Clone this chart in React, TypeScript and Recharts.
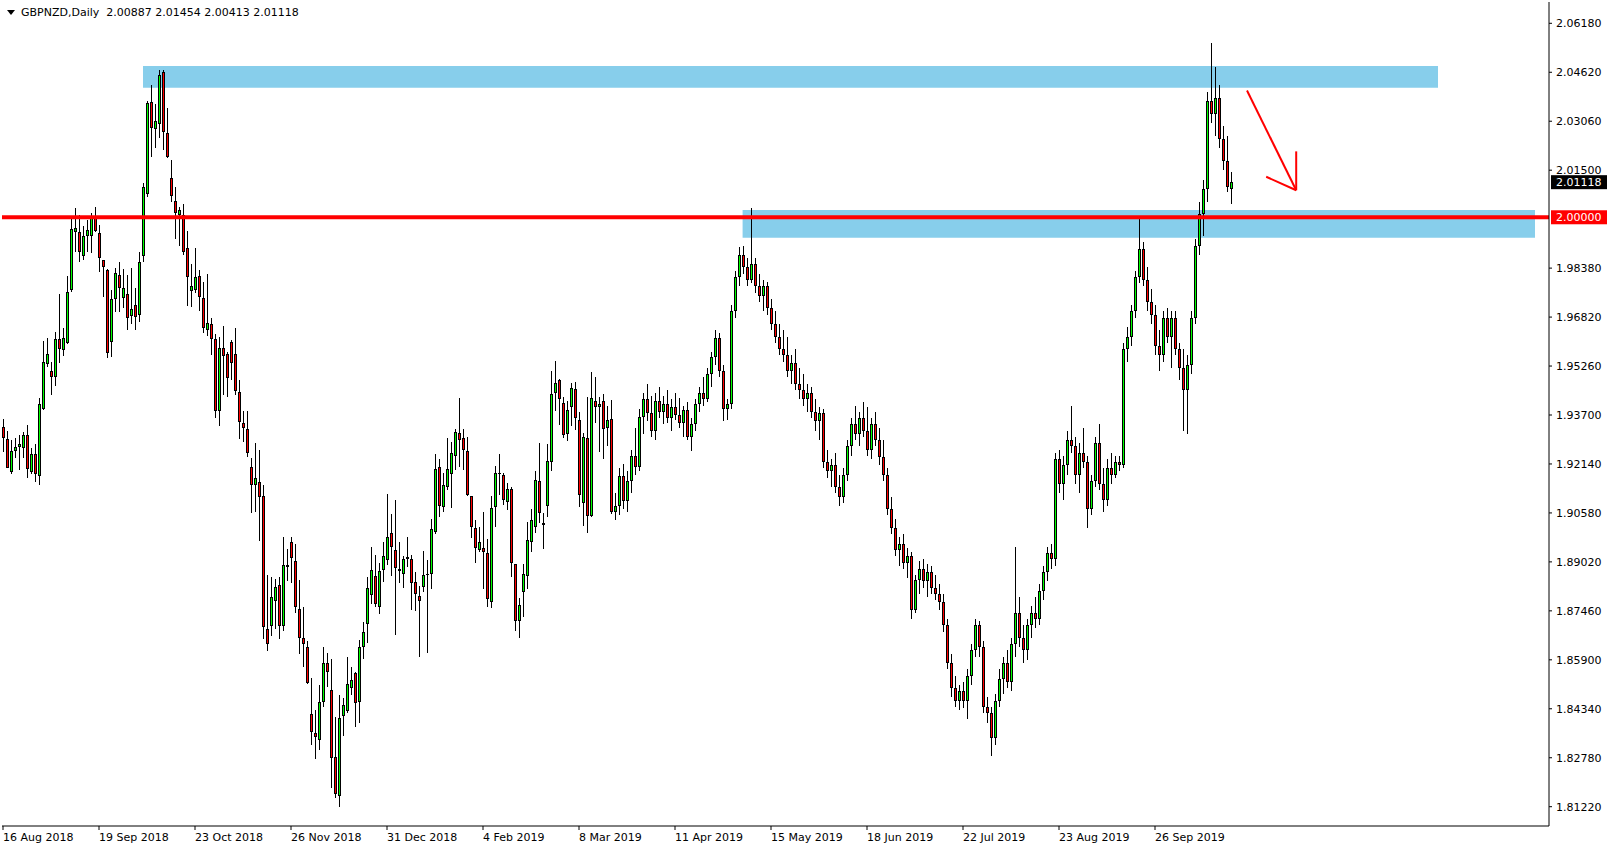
import { ComposedChart, Bar, XAxis, YAxis, ReferenceArea, ReferenceLine } from 'recharts';

const FONT = '"DejaVu Sans", sans-serif';

// x axis labels, one every 24 daily bars starting at bar 0
const xLabels = [
  '16 Aug 2018', '19 Sep 2018', '23 Oct 2018', '26 Nov 2018', '31 Dec 2018', '4 Feb 2019', '8 Mar 2019',
  '11 Apr 2019', '15 May 2019', '18 Jun 2019', '22 Jul 2019', '23 Aug 2019', '26 Sep 2019',
];
const xTickIdx = xLabels.map((_, k) => k * 24);

const yTicks = [
  2.0618, 2.0462, 2.0306, 2.015, 1.9838, 1.9682, 1.9526, 1.937, 1.9214, 1.9058, 1.8902, 1.8746, 1.859,
  1.8434, 1.8278, 1.8122,
];

// GBPNZD daily [open, high, low, close]
const ohlc: [number, number, number, number][] = [
  [1.93329, 1.93573, 1.92532, 1.92957], [1.92925, 1.93191, 1.92001, 1.92022], [1.91895, 1.92904, 1.91831, 1.92543],
  [1.92553, 1.92957, 1.9232, 1.9267], [1.9267, 1.93063, 1.91948, 1.92776], [1.92638, 1.93148, 1.9232, 1.93063],
  [1.93063, 1.93382, 1.91683, 1.91969], [1.91874, 1.92638, 1.9181, 1.92447], [1.92447, 1.92766, 1.91555, 1.9181],
  [1.91757, 1.94231, 1.9147, 1.9404], [1.93881, 1.96069, 1.93859, 1.95378], [1.95315, 1.96143, 1.9524, 1.95633],
  [1.95102, 1.95378, 1.94338, 1.94922], [1.94922, 1.96355, 1.94635, 1.96111], [1.96111, 1.97555, 1.95346, 1.95792],
  [1.95761, 1.96462, 1.95591, 1.96143], [1.95984, 1.9814, 1.95962, 1.97609], [1.97683, 1.99945, 1.97629, 1.99626],
  [1.99541, 2.00306, 1.98904, 1.99658], [1.9952, 2.00072, 1.98586, 1.98883], [1.98777, 1.99711, 1.98639, 1.99393],
  [1.99414, 1.99913, 1.98904, 1.99594], [1.99414, 2.00125, 1.98851, 1.99966], [1.99966, 2.00327, 1.9952, 1.99563],
  [1.99488, 1.99754, 1.98246, 1.98692], [1.98628, 1.98639, 1.97449, 1.98416], [1.98309, 1.98341, 1.95506, 1.95665],
  [1.96016, 1.97683, 1.95559, 1.97386], [1.97386, 1.98373, 1.96993, 1.98214], [1.98161, 1.98565, 1.96993, 1.97736],
  [1.97418, 1.98352, 1.9712, 1.97736], [1.97545, 1.98161, 1.96398, 1.9678], [1.96855, 1.98373, 1.96589, 1.97067],
  [1.97195, 1.97736, 1.96398, 1.96812], [1.96887, 1.98883, 1.96653, 1.98586], [1.98756, 2.01081, 1.98586, 2.00954],
  [2.00731, 2.03705, 2.00657, 2.0363], [2.03683, 2.04214, 2.01931, 2.02834], [2.02802, 2.03609, 2.02218, 2.03057],
  [2.02961, 2.04703, 2.02515, 2.04522], [2.04639, 2.04692, 2.02143, 2.02728], [2.02674, 2.03471, 2.01878, 2.01931],
  [2.01241, 2.01825, 2.00497, 2.00678], [2.00508, 2.00975, 1.99308, 2.00126], [2.00073, 2.00338, 1.99096, 2.00221],
  [2.00062, 2.00412, 1.98798, 1.98904], [1.99011, 1.99563, 1.97184, 1.98087], [1.97641, 1.98501, 1.97152, 1.978],
  [1.97683, 1.99011, 1.97577, 1.98087], [1.98129, 1.9832, 1.97014, 1.97449], [1.97418, 1.97949, 1.96324, 1.96462],
  [1.96398, 1.98193, 1.96228, 1.96621], [1.96589, 1.968, 1.95622, 1.96111], [1.96122, 1.96281, 1.93615, 1.93838],
  [1.93838, 1.96175, 1.9335, 1.95824], [1.95824, 1.96536, 1.94337, 1.95591], [1.95633, 1.95697, 1.94284, 1.94868],
  [1.96026, 1.9609, 1.94815, 1.95346], [1.95633, 1.96472, 1.94337, 1.94476], [1.94422, 1.94815, 1.92936, 1.93467],
  [1.93435, 1.93828, 1.92851, 1.93275], [1.93254, 1.93828, 1.92352, 1.92479], [1.92044, 1.9232, 1.90567, 1.91459],
  [1.91459, 1.92798, 1.9062, 1.91682], [1.91576, 1.92585, 1.89697, 1.91098], [1.91109, 1.9147, 1.86553, 1.86935],
  [1.86893, 1.88603, 1.86192, 1.86404], [1.86978, 1.88528, 1.8667, 1.87891], [1.87774, 1.88465, 1.86872, 1.8821],
  [1.88273, 1.8855, 1.86553, 1.86978], [1.86978, 1.89803, 1.86829, 1.88911], [1.88911, 1.8942, 1.88422, 1.88868],
  [1.89643, 1.89803, 1.88337, 1.89134], [1.89049, 1.8959, 1.87381, 1.87573], [1.87509, 1.88443, 1.86075, 1.86585],
  [1.86585, 1.87594, 1.85682, 1.86394], [1.86298, 1.865, 1.8512, 1.85151], [1.84163, 1.8531, 1.83186, 1.83611],
  [1.83558, 1.84301, 1.8273, 1.83452], [1.83346, 1.85098, 1.83027, 1.84546], [1.84546, 1.86298, 1.84386, 1.85788],
  [1.85788, 1.86107, 1.85045, 1.85501], [1.84939, 1.85915, 1.81806, 1.82761], [1.82793, 1.84068, 1.81508, 1.81614],
  [1.81572, 1.84779, 1.81222, 1.84036], [1.84121, 1.84673, 1.83484, 1.8445], [1.84259, 1.85979, 1.84195, 1.85119],
  [1.84992, 1.85682, 1.84779, 1.85257], [1.8547, 1.85523, 1.8377, 1.84514], [1.84546, 1.86532, 1.83876, 1.86298],
  [1.86298, 1.87116, 1.85937, 1.86797], [1.87031, 1.88549, 1.86447, 1.88178], [1.87955, 1.89484, 1.87679, 1.88762],
  [1.8856, 1.8924, 1.87594, 1.87668], [1.87594, 1.88974, 1.8736, 1.88719], [1.88762, 1.89664, 1.8839, 1.89197],
  [1.8908, 1.91183, 1.88921, 1.89824], [1.8993, 1.90546, 1.88571, 1.89484], [1.89399, 1.90992, 1.86691, 1.88815],
  [1.88794, 1.89643, 1.88358, 1.88741], [1.88624, 1.89208, 1.88199, 1.89102], [1.89165, 1.89824, 1.88868, 1.89102],
  [1.89102, 1.8924, 1.87487, 1.88337], [1.88369, 1.88709, 1.87466, 1.87986], [1.87933, 1.88252, 1.86001, 1.87764],
  [1.88231, 1.89356, 1.8805, 1.88592], [1.88592, 1.8908, 1.86107, 1.88634], [1.88624, 1.90387, 1.88146, 1.90057],
  [1.89983, 1.92458, 1.89898, 1.9198], [1.92033, 1.92298, 1.90461, 1.90811], [1.9078, 1.91842, 1.9061, 1.91459],
  [1.91396, 1.92967, 1.91311, 1.91969], [1.9182, 1.92851, 1.90726, 1.92479], [1.92394, 1.93243, 1.91948, 1.93148],
  [1.93116, 1.94231, 1.92054, 1.92904], [1.92957, 1.93243, 1.91948, 1.92574], [1.92553, 1.9301, 1.91119, 1.91151],
  [1.91119, 1.91119, 1.89771, 1.90142], [1.90089, 1.90355, 1.88995, 1.89452], [1.89399, 1.90142, 1.89346, 1.89664],
  [1.89452, 1.9062, 1.88156, 1.89346], [1.89293, 1.8975, 1.87594, 1.87827], [1.87732, 1.91119, 1.87562, 1.90726],
  [1.90758, 1.92075, 1.90142, 1.91842], [1.91852, 1.92458, 1.91141, 1.9181], [1.91778, 1.91842, 1.90833, 1.90992],
  [1.90918, 1.91523, 1.90673, 1.91353], [1.91332, 1.91417, 1.88549, 1.88974], [1.88942, 1.88942, 1.86829, 1.87148],
  [1.87148, 1.87859, 1.86585, 1.87647], [1.88072, 1.88942, 1.87275, 1.88634], [1.88581, 1.90281, 1.88146, 1.89718],
  [1.89665, 1.90695, 1.89346, 1.90355], [1.90142, 1.91927, 1.8993, 1.91629], [1.91597, 1.92797, 1.90249, 1.90567],
  [1.9026, 1.90588, 1.89431, 1.90206], [1.90812, 1.92776, 1.90461, 1.92235], [1.92213, 1.95102, 1.91927, 1.94359],
  [1.94391, 1.9541, 1.93828, 1.9472], [1.94815, 1.94837, 1.93382, 1.94199], [1.94072, 1.94263, 1.92957, 1.93052],
  [1.93084, 1.94146, 1.92882, 1.93859], [1.93944, 1.9473, 1.9335, 1.9455], [1.94529, 1.94752, 1.93222, 1.93615],
  [1.93541, 1.93796, 1.9078, 1.91162], [1.90907, 1.93116, 1.90164, 1.92989], [1.92957, 1.94284, 1.89951, 1.90493],
  [1.90482, 1.9507, 1.90461, 1.94231], [1.94146, 1.94921, 1.93435, 1.93966], [1.93966, 1.94284, 1.92532, 1.94051],
  [1.94146, 1.94369, 1.92288, 1.93265], [1.93297, 1.93987, 1.92712, 1.93541], [1.93573, 1.94178, 1.9055, 1.9062],
  [1.9062, 1.912, 1.9035, 1.908], [1.908, 1.92, 1.905, 1.9175], [1.9175, 1.9215, 1.907, 1.9095],
  [1.9095, 1.919, 1.906, 1.916], [1.916, 1.926, 1.912, 1.924], [1.924, 1.933, 1.918, 1.9205],
  [1.9205, 1.939, 1.919, 1.9365], [1.9365, 1.944, 1.931, 1.942], [1.942, 1.947, 1.935, 1.9375],
  [1.9375, 1.943, 1.93, 1.932], [1.932, 1.944, 1.929, 1.9415], [1.9415, 1.946, 1.936, 1.938],
  [1.938, 1.943, 1.934, 1.9405], [1.9405, 1.945, 1.9345, 1.936], [1.936, 1.942, 1.932, 1.9395],
  [1.9395, 1.944, 1.9355, 1.937], [1.937, 1.9425, 1.933, 1.9345], [1.9345, 1.94, 1.93, 1.9385],
  [1.9385, 1.941, 1.929, 1.93], [1.93, 1.936, 1.9255, 1.934], [1.934, 1.942, 1.932, 1.9405],
  [1.9405, 1.946, 1.938, 1.944], [1.944, 1.949, 1.94, 1.942], [1.942, 1.952, 1.941, 1.95],
  [1.95, 1.957, 1.946, 1.9555], [1.9555, 1.964, 1.953, 1.9615], [1.9615, 1.963, 1.949, 1.951],
  [1.951, 1.953, 1.935, 1.939], [1.939, 1.942, 1.9355, 1.9405], [1.9405, 1.972, 1.939, 1.97],
  [1.97, 1.983, 1.968, 1.981], [1.981, 1.9905, 1.978, 1.988], [1.988, 1.991, 1.982, 1.984],
  [1.984, 1.987, 1.978, 1.98], [1.98, 2.003, 1.979, 1.985], [1.985, 1.987, 1.976, 1.978],
  [1.978, 1.982, 1.973, 1.975], [1.975, 1.98, 1.97, 1.978], [1.978, 1.9795, 1.969, 1.971],
  [1.971, 1.974, 1.964, 1.966], [1.966, 1.97, 1.96, 1.962], [1.962, 1.966, 1.956, 1.958],
  [1.958, 1.964, 1.954, 1.956], [1.956, 1.962, 1.949, 1.951], [1.951, 1.956, 1.947, 1.9535],
  [1.9535, 1.958, 1.945, 1.947], [1.947, 1.952, 1.942, 1.945], [1.945, 1.95, 1.94, 1.942],
  [1.942, 1.947, 1.938, 1.944], [1.944, 1.946, 1.936, 1.938], [1.938, 1.942, 1.932, 1.935],
  [1.935, 1.9395, 1.929, 1.9375], [1.9375, 1.939, 1.92, 1.922], [1.922, 1.926, 1.917, 1.919],
  [1.919, 1.923, 1.914, 1.921], [1.921, 1.925, 1.912, 1.914], [1.914, 1.918, 1.908, 1.911],
  [1.911, 1.92, 1.909, 1.918], [1.918, 1.929, 1.916, 1.927], [1.927, 1.936, 1.924, 1.934],
  [1.934, 1.94, 1.929, 1.931], [1.931, 1.938, 1.927, 1.936], [1.936, 1.941, 1.93, 1.932],
  [1.932, 1.9395, 1.924, 1.926], [1.926, 1.936, 1.923, 1.934], [1.934, 1.938, 1.927, 1.929],
  [1.929, 1.933, 1.921, 1.9235], [1.9235, 1.929, 1.916, 1.918], [1.918, 1.92, 1.905, 1.907],
  [1.907, 1.911, 1.899, 1.901], [1.901, 1.904, 1.892, 1.894], [1.894, 1.898, 1.889, 1.896],
  [1.896, 1.899, 1.888, 1.89], [1.89, 1.8945, 1.885, 1.892], [1.892, 1.8935, 1.872, 1.875],
  [1.875, 1.886, 1.874, 1.8845], [1.8845, 1.8905, 1.88, 1.888], [1.888, 1.891, 1.882, 1.884],
  [1.884, 1.8895, 1.879, 1.887], [1.887, 1.889, 1.88, 1.882], [1.882, 1.886, 1.878, 1.88],
  [1.88, 1.883, 1.875, 1.8775], [1.8775, 1.88, 1.868, 1.87], [1.87, 1.872, 1.856, 1.858],
  [1.858, 1.861, 1.847, 1.85], [1.85, 1.854, 1.844, 1.846], [1.846, 1.851, 1.843, 1.849],
  [1.849, 1.852, 1.8435, 1.846], [1.846, 1.856, 1.84, 1.854], [1.854, 1.864, 1.851, 1.862],
  [1.862, 1.872, 1.86, 1.87], [1.87, 1.8715, 1.86, 1.863], [1.863, 1.865, 1.842, 1.844],
  [1.844, 1.847, 1.839, 1.842], [1.842, 1.844, 1.8285, 1.834], [1.834, 1.848, 1.832, 1.846],
  [1.846, 1.856, 1.844, 1.853], [1.853, 1.86, 1.848, 1.858], [1.858, 1.862, 1.85, 1.852],
  [1.852, 1.866, 1.849, 1.864], [1.864, 1.895, 1.86, 1.874], [1.874, 1.879, 1.863, 1.866],
  [1.866, 1.87, 1.858, 1.862], [1.862, 1.872, 1.859, 1.87], [1.87, 1.876, 1.866, 1.874],
  [1.874, 1.879, 1.869, 1.872], [1.872, 1.883, 1.87, 1.881], [1.881, 1.889, 1.878, 1.887],
  [1.887, 1.895, 1.884, 1.893], [1.893, 1.896, 1.888, 1.891], [1.891, 1.925, 1.889, 1.923],
  [1.923, 1.926, 1.912, 1.915], [1.915, 1.924, 1.91, 1.921], [1.921, 1.932, 1.918, 1.929],
  [1.929, 1.94, 1.925, 1.927], [1.927, 1.93, 1.915, 1.918], [1.918, 1.928, 1.912, 1.925],
  [1.925, 1.933, 1.92, 1.922], [1.922, 1.924, 1.901, 1.907], [1.907, 1.918, 1.905, 1.916],
  [1.916, 1.93, 1.914, 1.928], [1.928, 1.934, 1.913, 1.915], [1.915, 1.92, 1.906, 1.91],
  [1.91, 1.923, 1.908, 1.92], [1.92, 1.925, 1.915, 1.918], [1.918, 1.924, 1.917, 1.922],
  [1.922, 1.924, 1.919, 1.921], [1.921, 1.96, 1.92, 1.958], [1.958, 1.965, 1.954, 1.962],
  [1.962, 1.972, 1.959, 1.97], [1.97, 1.983, 1.968, 1.981], [1.981, 2.0, 1.979, 1.99],
  [1.99, 1.992, 1.978, 1.98], [1.98, 1.984, 1.97, 1.973], [1.973, 1.977, 1.966, 1.969],
  [1.969, 1.972, 1.956, 1.959], [1.959, 1.964, 1.951, 1.956], [1.956, 1.97, 1.954, 1.968],
  [1.968, 1.971, 1.96, 1.962], [1.962, 1.97, 1.952, 1.968], [1.968, 1.97, 1.956, 1.958],
  [1.958, 1.96, 1.948, 1.952], [1.952, 1.958, 1.932, 1.945], [1.945, 1.956, 1.931, 1.953],
  [1.953, 1.97, 1.95, 1.968], [1.968, 1.993, 1.966, 1.991], [1.991, 2.005, 1.988, 2.001],
  [2.001, 2.012, 1.994, 2.009], [2.009, 2.04, 2.005, 2.037], [2.037, 2.0555, 2.03, 2.033],
  [2.033, 2.048, 2.026, 2.038], [2.038, 2.042, 2.022, 2.025], [2.025, 2.029, 2.015, 2.018],
  [2.018, 2.026, 2.008, 2.0095], [2.00887, 2.01454, 2.00413, 2.01118],
];

// supply / demand zones (bar index, price)
const zoneX1 = [35, 184.9];
const zoneX2 = [358.75, 383];
const zoneLow = [2.04128, 1.99349];
const zoneHigh = [2.0482, 2.00232];

const levelPrice = 2.0;

// hand-drawn arrow: shaft then two barbs, in (bar, price)
const arrowTip = { x: 323.3, y: 2.0086 };
const arrowTails = [
  { x: 311, y: 2.0404 },
  { x: 315.8, y: 2.0129 },
  { x: 323.3, y: 2.021 },
];

const data = ohlc.map(([o, h, l, c], i) => ({ i, o, h, l, c, range: [l, h] }));
const last = ohlc[ohlc.length - 1];

function Candle(props: any) {
  const { x, y, width, height, payload } = props;
  if (!payload || height == null) return null;
  const { o, h, l, c } = payload;
  const top = Math.min(y, y + height);
  const bot = Math.max(y, y + height);
  const k = h > l ? (bot - top) / (h - l) : 0;
  const py = (v: number) => top + (h - v) * k;
  const cx = Math.round(x + width / 2);
  const bTop = Math.round(py(Math.max(o, c)));
  const bBot = Math.max(bTop + 1, Math.round(py(Math.min(o, c))));
  const wTop = Math.round(top);
  const wBot = Math.max(wTop + 1, Math.round(bot));
  return (
    <g shapeRendering="crispEdges">
      <rect x={cx} y={wTop} width={1} height={wBot - wTop} fill="#000" />
      <rect x={cx - 1} y={bTop} width={3} height={bBot - bTop} fill="#000" />
      {bBot - bTop > 2 && (
        <rect x={cx} y={bTop + 1} width={1} height={bBot - bTop - 2} fill={c >= o ? '#00FF00' : '#FF0000'} />
      )}
    </g>
  );
}

function XTick({ x, y, payload }: any) {
  const label = xLabels[Math.round(payload.value / 24)];
  return (
    <text x={x} y={y} dy={9} textAnchor="start" fontSize={11} fontFamily={FONT} fill="#000">
      {label}
    </text>
  );
}

function YTick({ x, y, payload }: any) {
  return (
    <text x={x} y={y} dy="0.36em" textAnchor="start" fontSize={11} fontFamily={FONT} fill="#000">
      {Number(payload.value).toFixed(5)}
    </text>
  );
}

function tag(bg: string, text: string) {
  return (props: any) => {
    const { x, y, width } = props.viewBox;
    return (
      <g>
        <rect x={x + width + 2} y={y - 7} width={56} height={14} fill={bg} />
        <text x={x + width + 7} y={y} dy="0.36em" fontSize={11} fontFamily={FONT} fill="#fff">
          {text}
        </text>
      </g>
    );
  };
}

export default function App() {
  const xDomain = [-0.25, 386.5];
  const yDomain = [1.80605, 2.06859];
  return (
    <div style={{ position: 'absolute', left: 0, top: 0, width: 1613, height: 850, background: '#fff' }}>
      <ComposedChart width={1613} height={850} data={data} margin={{ top: 2, right: 4, bottom: 4, left: 2 }}>
        <XAxis
          dataKey="i"
          type="number"
          domain={xDomain}
          allowDataOverflow
          ticks={xTickIdx}
          interval={0}
          height={20}
          tickSize={4}
          tickMargin={2}
          axisLine={{ stroke: '#000' }}
          tickLine={{ stroke: '#000' }}
          tick={<XTick />}
        />
        <XAxis xAxisId="top" orientation="top" type="number" domain={xDomain} allowDataOverflow height={0} tick={false} tickLine={false} axisLine={{ stroke: '#000' }} />
        <YAxis
          orientation="right"
          type="number"
          domain={yDomain}
          allowDataOverflow
          ticks={yTicks}
          interval={0}
          width={60}
          tickSize={3}
          tickMargin={4}
          axisLine={{ stroke: '#000' }}
          tickLine={{ stroke: '#000' }}
          tick={<YTick />}
        />
        <YAxis yAxisId="left" orientation="left" type="number" domain={yDomain} allowDataOverflow width={0} tick={false} tickLine={false} axisLine={{ stroke: '#000' }} />

        {zoneX1.map((x1, k) => (
          <ReferenceArea key={k} x1={x1} x2={zoneX2[k]} y1={zoneLow[k]} y2={zoneHigh[k]} fill="#87CEEB" fillOpacity={1} stroke="none" />
        ))}

        <Bar dataKey="range" barSize={3} isAnimationActive={false} shape={<Candle />} />

        <ReferenceLine y={levelPrice} stroke="#FF0000" strokeWidth={4} label={tag('#FF0000', levelPrice.toFixed(5))} />
        <ReferenceLine y={last[3]} stroke="none" strokeOpacity={0} label={tag('#000', last[3].toFixed(5))} />
        {arrowTails.map((p, k) => (
          <ReferenceLine key={'a' + k} segment={[p, arrowTip]} stroke="#FF0000" strokeWidth={2} />
        ))}
      </ComposedChart>

      <div style={{ position: 'absolute', left: 6, top: 6, display: 'flex', alignItems: 'center', fontFamily: FONT, fontSize: 11, lineHeight: '13px', color: '#000', whiteSpace: 'pre' }}>
        <svg width={10} height={6} style={{ marginRight: 5 }}>
          <polygon points="1,0 9,0 5,5" fill="#000" />
        </svg>
        <span>{`GBPNZD,Daily  ${last.map((v) => v.toFixed(5)).join(' ')}`}</span>
      </div>
    </div>
  );
}
